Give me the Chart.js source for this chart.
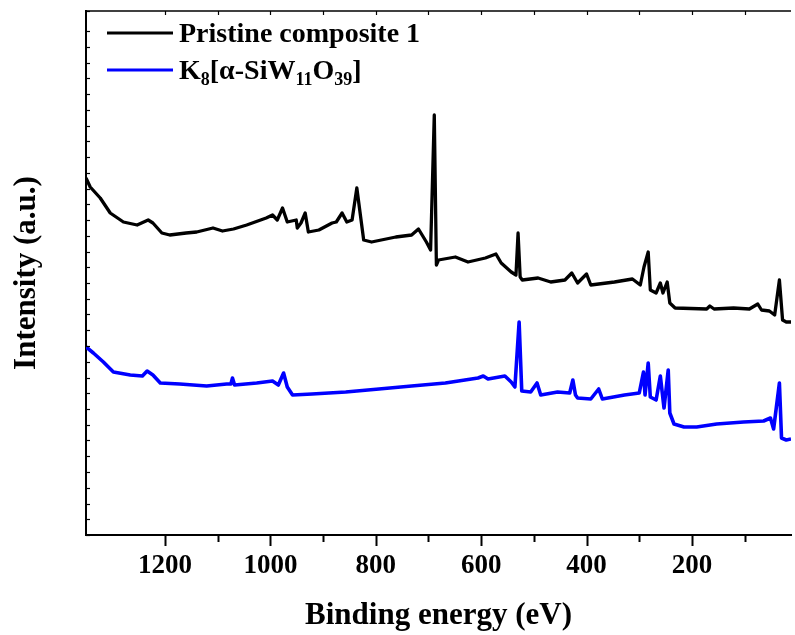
<!DOCTYPE html>
<html>
<head>
<meta charset="utf-8">
<script src="https://cdn.jsdelivr.net/npm/chart.js@4.4.1/dist/chart.umd.min.js"></script>
<style>
  html, body { margin: 0; padding: 0; background: #fff; }
  #wrap { width: 795px; height: 635px; position: relative; }
</style>
</head>
<body>
<div id="wrap"><canvas id="xpsChart"></canvas></div>
<script>
// ---- data (binding energy in eV, intensity in a.u.) ----
const pristineEnergy = [1350, 1342, 1323, 1304, 1279, 1253, 1232, 1223, 1206, 1191, 1160, 1140, 1109, 1091, 1070,
    1045, 1008, 996, 987, 977, 968, 951, 949, 942, 934, 928, 908, 883, 875, 864, 855, 845, 836, 823, 808,
    762, 732, 719, 704, 696, 689, 685, 681, 649, 625, 592, 572, 562, 543, 534, 530, 526, 522,
    492, 468, 441, 428, 417, 400, 392, 347, 313, 298, 291, 283, 279, 268, 260, 255, 247, 242, 232,
    172, 166, 158, 121, 91, 75, 68, 53, 43, 34, 28, 21, 12];
const pristineIntensity = [357, 348, 337, 322, 313, 310, 315, 312, 302, 300, 302, 303, 307, 304, 306,
    310, 317, 320, 315, 327, 313, 315, 307, 312, 322, 303, 305, 312, 313, 322, 313, 315, 347, 295, 293,
    298, 300, 306, 293, 285, 420, 270, 275, 278, 273, 277, 281, 272, 263, 260, 302, 258, 255,
    257, 253, 255, 262, 252, 261, 250, 253, 256, 250, 268, 283, 245, 242, 252, 242, 253, 232, 227,
    226, 229, 226, 227, 226, 231, 225, 224, 220, 255, 215, 213, 213];

const siwEnergy = [1350, 1336, 1317, 1298, 1266, 1243, 1234, 1223, 1209, 1172, 1121, 1083, 1075, 1072, 1068,
    1026, 996, 985, 975, 968, 958, 921, 857, 794, 732, 668, 606, 596, 587, 555, 543, 536, 528, 523,
    506, 494, 487, 455, 432, 426, 421, 417, 392, 377, 370, 328, 300, 292, 289, 283, 279, 268, 260,
    253, 245, 242, 234, 215, 191, 153, 102, 64, 51, 45, 34, 30, 21, 12];
const siwIntensity = [188, 182, 173, 163, 160, 159, 164, 160, 152, 151, 149, 151, 151, 157, 150,
    152, 154, 150, 162, 148, 140, 141, 143, 146, 149, 152, 157, 159, 156, 159, 153, 148, 213, 144,
    143, 152, 140, 143, 142, 155, 140, 137, 136, 146, 136, 140, 142, 163, 140, 172, 138, 135, 159,
    127, 165, 122, 111, 108, 108, 111, 113, 114, 117, 106, 152, 97, 95, 96];

const xMin = 12, xMax = 1350;     // axis is cut just past 0 eV on the right
const yMin = 0, yMax = 524;
const xLabelEvery = 200;

const serif = "'Times New Roman', 'Liberation Serif', serif";
Chart.defaults.font.family = serif;
Chart.defaults.color = "#000";

function toPoints(xs, ys) {
    return xs.map((x, i) => ({ x: x, y: ys[i] }));
}

/* =========================================================
   frame: top border + tick marks (major/minor, inside/outside)
========================================================= */
const frameTicks = {
    id: "frameTicks",
    afterDraw(chart) {
        const { ctx, chartArea: a, scales: { x, y } } = chart;
        const seg = (x1, y1, x2, y2) => {
            ctx.beginPath(); ctx.moveTo(x1, y1); ctx.lineTo(x2, y2); ctx.stroke();
        };
        ctx.save();
        ctx.strokeStyle = "#000";
        ctx.lineWidth = 1.5;
        seg(a.left, a.top, a.right, a.top);

        ctx.lineWidth = 2;
        x.ticks.forEach(t => {
            if (t.value % 100 !== 0) return;
            const px = Math.round(x.getPixelForValue(t.value)) + 0.5;
            const major = t.value % xLabelEvery === 0;
            seg(px, a.bottom, px, a.bottom + (major ? 11 : 7));
            ctx.lineWidth = 1.2;
            seg(px, a.top, px, a.top + 4);
            ctx.lineWidth = 2;
        });

        ctx.lineWidth = 1.2;
        y.ticks.forEach(t => {
            const py = Math.round(y.getPixelForValue(t.value)) + 0.5;
            seg(a.left, py, a.left + 4, py);
        });
        ctx.restore();
    }
};

/* =========================================================
   legend with chemical subscripts ("_{..}" marks a subscript)
========================================================= */
const formulaLegend = {
    id: "formulaLegend",
    afterDraw(chart) {
        const ctx = chart.ctx;
        const x0 = 107, lineLen = 66, gap = 6, rowH = 37, top = 33;
        ctx.save();
        chart.data.datasets.forEach((ds, i) => {
            const yy = top + i * rowH;
            ctx.strokeStyle = ds.borderColor;
            ctx.lineWidth = 3;
            ctx.beginPath(); ctx.moveTo(x0, yy); ctx.lineTo(x0 + lineLen, yy); ctx.stroke();

            let cx = x0 + lineLen + gap;
            const base = yy + 9;
            ctx.fillStyle = "#000";
            ctx.textBaseline = "alphabetic";
            const parts = ds.legendText.split(/(_\{[^}]*\})/).filter(s => s.length);
            parts.forEach(p => {
                if (p.startsWith("_{")) {
                    const s = p.slice(2, -1);
                    ctx.font = "bold 18px " + serif;
                    ctx.fillText(s, cx, base + 6);
                    cx += ctx.measureText(s).width;
                } else {
                    ctx.font = "bold 28px " + serif;
                    ctx.fillText(p, cx, base);
                    cx += ctx.measureText(p).width;
                }
            });
        });
        ctx.restore();
    }
};

function drawSpectra() {
    const canvas = document.getElementById("xpsChart");
    if (!canvas) return;

    new Chart(canvas, {
        type: "line",
        data: {
            datasets: [
                {
                    label: "Pristine composite 1",
                    legendText: "Pristine composite 1",
                    data: toPoints(pristineEnergy, pristineIntensity),
                    borderColor: "#000000",
                    borderWidth: 3.3,
                    borderJoinStyle: "round",
                    pointRadius: 0,
                    tension: 0
                },
                {
                    label: "K8[α-SiW11O39]",
                    legendText: "K_{8}[α-SiW_{11}O_{39}]",
                    data: toPoints(siwEnergy, siwIntensity),
                    borderColor: "#0000ff",
                    borderWidth: 3.6,
                    borderJoinStyle: "round",
                    pointRadius: 0,
                    tension: 0
                }
            ]
        },
        options: {
            responsive: true,
            maintainAspectRatio: false,
            animation: false,
            layout: { padding: { top: 11, right: 0, left: 0, bottom: 0 } },
            plugins: { legend: { display: false }, tooltip: { enabled: false } },
            scales: {
                x: {
                    type: "linear",
                    reverse: true,
                    min: xMin,
                    max: xMax,
                    afterFit: s => { s.height = 100; },
                    grid: { display: true, drawOnChartArea: false, drawTicks: true, tickLength: 11, tickColor: "rgba(0,0,0,0)" },
                    border: { display: true, color: "#000", width: 2 },
                    ticks: {
                        stepSize: 100,
                        autoSkip: false,
                        maxRotation: 0,
                        padding: 4,
                        font: { size: 27, weight: "bold" },
                        callback: v => (v % xLabelEvery === 0 ? String(v) : "")
                    },
                    title: {
                        display: true,
                        text: "Binding energy (eV)",
                        font: { size: 31, weight: "bold" },
                        padding: { top: 0, bottom: 0 }
                    }
                },
                y: {
                    min: yMin,
                    max: yMax,
                    afterFit: s => { s.width = 86; },
                    grid: { display: false },
                    border: { display: true, color: "#000", width: 2 },
                    ticks: { display: false, stepSize: 15.75 },
                    title: {
                        display: true,
                        text: "Intensity (a.u.)",
                        font: { size: 31, weight: "bold" },
                        padding: { top: 8, bottom: 0 }
                    }
                }
            }
        },
        plugins: [frameTicks, formulaLegend]
    });
}

document.addEventListener("DOMContentLoaded", drawSpectra);
</script>
</body>
</html>
